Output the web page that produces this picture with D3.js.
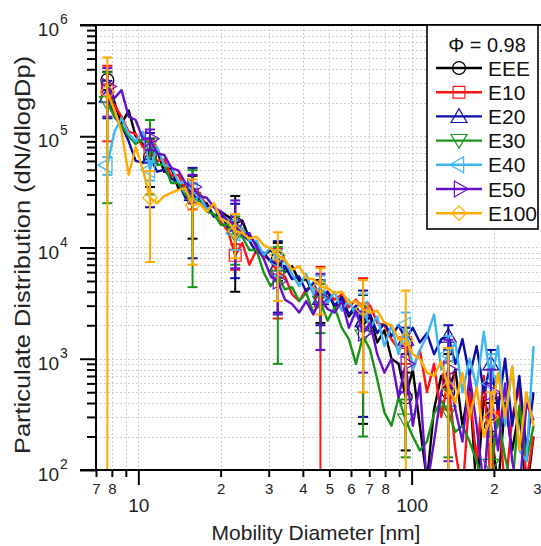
<!DOCTYPE html>
<html>
<head>
<meta charset="utf-8">
<script src="https://cdn.jsdelivr.net/npm/d3@7"></script>
<style>
  body { margin: 0; background: #fff; }
  svg { display: block; font-family: "Liberation Sans", Arial, sans-serif; }
</style>
</head>
<body>
<svg id="chart" width="541" height="546"></svg>
<script>
// mobility diameters [nm], same for every run
var diameters = [7.70, 8.18, 8.68, 9.22, 9.78, 10.39, 11.03, 11.71, 12.43, 13.20,
  14.01, 14.87, 15.79, 16.77, 17.80, 18.90, 20.06, 21.30, 22.62, 24.01,
  25.49, 27.07, 28.73, 30.51, 32.39, 34.39, 36.51, 38.76, 41.15, 43.69,
  46.38, 49.24, 52.28, 55.51, 58.93, 62.57, 66.43, 70.52, 74.87, 79.49,
  84.39, 89.60, 95.13, 101.0, 107.2, 113.8, 120.8, 128.3, 136.2, 144.6,
  153.5, 163.0, 173.0, 183.7, 195.0, 207.1, 219.8, 233.4, 247.8, 263.1, 279.3];

var seriesNames = ["EEE", "E10", "E20", "E30", "E40", "E50", "E100"];

var eee = [3.2e5, 2.0e5, 1.3e5, 1.7e5, 1.0e5, 8.5e4, 6.5e4, 7.5e4, 4.8e4, 5.2e4,
  3.4e4, 3.8e4, 2.8e4, 2.6e4, 2.5e4, 1.9e4, 2.1e4, 1.9e4, 1.65e4, 1.75e4,
  1.2e4, 1.1e4, 8.5e3, 9.5e3, 8.0e3, 6.0e3, 6.8e3, 5.0e3, 5.2e3, 3.9e3,
  3.6e3, 4.0e3, 2.9e3, 3.5e3, 2.4e3, 2.9e3, 2.0e3, 2.4e3, 1.4e3, 1.8e3,
  1.0e3, 900, 450, 800, 250, 80, 350, 700, 500, 800,
  250, 600, 60, 450, 250, 70, 400, 150, 350, 60, 200];
var e10 = [2.6e5, 1.9e5, 1.5e5, 1.1e5, 1.05e5, 8.0e4, 7.5e4, 6.0e4, 6.2e4, 4.4e4,
  4.5e4, 3.3e4, 3.0e4, 3.1e4, 2.3e4, 2.4e4, 1.7e4, 1.4e4, 8.5e3, 1.1e4,
  7.0e3, 9.5e3, 8.5e3, 7.5e3, 6.0e3, 5.5e3, 3.8e3, 3.3e3, 4.2e3, 4.6e3,
  3.3e3, 4.0e3, 3.4e3, 3.8e3, 2.9e3, 3.4e3, 2.8e3, 3.0e3, 2.1e3, 2.0e3,
  1.5e3, 1.2e3, 1.4e3, 800, 1.2e3, 500, 900, 300, 650, 150,
  60, 500, 120, 700, 70, 450, 60, 300, 550, 80, 200];
var e20 = [2.3e5, 1.5e5, 1.25e5, 9.0e4, 6.0e4, 5.8e4, 6.5e4, 4.8e4, 5.0e4, 4.2e4,
  3.8e4, 2.8e4, 3.0e4, 2.6e4, 2.4e4, 1.9e4, 2.0e4, 1.5e4, 1.5e4, 1.3e4,
  1.15e4, 9.0e3, 9.0e3, 7.5e3, 7.0e3, 6.8e3, 5.2e3, 5.5e3, 4.0e3, 4.8e3,
  3.5e3, 4.0e3, 3.0e3, 3.6e3, 2.5e3, 3.0e3, 2.2e3, 2.5e3, 1.7e3, 2.1e3,
  1.6e3, 2.0e3, 1.5e3, 1.9e3, 1.4e3, 1.7e3, 1.1e3, 1.5e3, 1.6e3, 900,
  1.5e3, 700, 1.3e3, 500, 900, 350, 1.0e3, 250, 700, 150, 500];
var e30 = [2.0e5, 1.5e5, 1.25e5, 1.0e5, 8.5e4, 9.5e4, 8.5e4, 5.5e4, 5.6e4, 3.8e4,
  3.8e4, 3.0e4, 2.7e4, 2.6e4, 2.1e4, 2.0e4, 1.6e4, 1.6e4, 1.3e4, 1.25e4,
  9.5e3, 9.5e3, 6.0e3, 4.5e3, 5.5e3, 4.2e3, 4.4e3, 3.3e3, 3.9e3, 2.6e3,
  3.2e3, 2.2e3, 2.9e3, 1.9e3, 1.5e3, 900, 1.6e3, 1.2e3, 650, 330,
  250, 450, 280, 200, 150, 180, 320, 420, 330, 220,
  250, 180, 120, 70, 110, 300, 130, 70, 380, 120, 250];
var e40 = [5.5e4, 1.1e5, 1.45e5, 1.05e5, 9.0e4, 1.1e5, 5.0e4, 8.0e4, 5.5e4, 5.3e4,
  3.9e4, 3.8e4, 3.2e4, 2.9e4, 2.2e4, 2.4e4, 1.8e4, 1.8e4, 1.35e4, 1.5e4,
  1.15e4, 1.15e4, 8.5e3, 1.0e4, 7.5e3, 7.5e3, 5.8e3, 4.5e3, 5.8e3, 3.8e3,
  4.4e3, 3.2e3, 4.0e3, 2.7e3, 3.4e3, 2.4e3, 2.8e3, 1.9e3, 2.4e3, 1.3e3,
  2.0e3, 1.1e3, 2.0e3, 800, 1.2e3, 1.6e3, 2.5e3, 800, 1.1e3, 1.4e3,
  500, 1.0e3, 550, 1.75e3, 600, 1.3e3, 250, 850, 150, 120, 1.3e3];
var e50 = [2.8e5, 2.2e5, 2.6e5, 1.5e5, 1.4e5, 9.5e4, 9.5e4, 7.0e4, 6.8e4, 5.2e4,
  4.9e4, 3.8e4, 3.5e4, 2.9e4, 2.8e4, 2.3e4, 2.1e4, 1.7e4, 1.65e4, 1.3e4,
  1.35e4, 1.0e4, 8.0e3, 5.5e3, 5.0e3, 3.4e3, 3.1e3, 2.6e3, 3.3e3, 2.5e3,
  3.5e3, 2.8e3, 2.6e3, 3.3e3, 1.9e3, 2.7e3, 1.7e3, 2.1e3, 1.1e3, 750,
  1.0e3, 450, 900, 250, 600, 70, 180, 500, 800, 350,
  180, 700, 250, 70, 500, 150, 600, 120, 60, 400, 280];
var e100 = [2.5e5, 1.7e5, 1.1e5, 4.5e4, 8.0e4, 5.0e4, 2.8e4, 2.5e4, 2.9e4, 3.1e4,
  3.3e4, 3.4e4, 2.4e4, 2.5e4, 2.1e4, 2.5e4, 1.8e4, 1.7e4, 1.4e4, 1.35e4,
  1.2e4, 1.25e4, 1.05e4, 9.8e3, 8.5e3, 7.8e3, 6.3e3, 6.8e3, 5.3e3, 5.2e3,
  4.5e3, 4.3e3, 3.9e3, 4.0e3, 3.2e3, 3.3e3, 2.8e3, 2.6e3, 2.7e3, 2.1e3,
  2.0e3, 1.5e3, 1.5e3, 1.1e3, 1.0e3, 750, 700, 950, 550, 400,
  750, 300, 550, 200, 300, 750, 300, 850, 150, 500, 250];

// error bars sit on these points (index into diameters)
var errIndex = [0, 6, 12, 18, 24, 30, 36, 42, 48, 54];
var eeeErr  = [6e4, 3e4, 1.6e4, 1.25e4, 3e3, 1.5e3, 1.74e3, 300, 600, 150];
var e10Err  = [1.7e5, 1.5e4, 8e3, 2.2e3, 3.7e3, 3.4e3, 2.5e3, 500, 300, 100];
var e20Err  = [8.5e4, 4.2e4, 2.2e4, 9.7e3, 4.4e3, 1.5e3, 1.9e3, 400, 400, 300];
var e30Err  = [1.75e5, 5.5e4, 2.26e4, 6e3, 4.6e3, 1.5e3, 1.4e3, 150, 200, 100];
var e40Err  = [1e4, 1e4, 6e3, 4e3, 2e3, 1.2e3, 1e3, 600, 500, 500];
var e50Err  = [1.3e5, 2e4, 1e4, 1e4, 2.5e3, 2.3e3, 950, 400, 680, 300];
var e100Err = [2.6e5, 2.06e4, 1.7e4, 6e3, 5.2e3, 2e3, 2.3e3, 2.6e3, 700, 200];

var xMajorTicks = [10, 100];
var xMajorLabels = ["10", "100"];
var xMinorTicks = [7, 8, 9, 20, 30, 40, 50, 60, 70, 80, 90, 200, 300];
var xMinorLabels = ["7", "8", "", "2", "3", "4", "5", "6", "7", "8", "", "2", "3"];
var yMajorTicks = [1e2, 1e3, 1e4, 1e5, 1e6];
var yMajorExponents = ["2", "3", "4", "5", "6"];

var legendTitle = "\u03a6 = 0.98";

var seriesData = [eee, e10, e20, e30, e40, e50, e100];
var seriesErr = [eeeErr, e10Err, e20Err, e30Err, e40Err, e50Err, e100Err];
var seriesColors = ["#000000", "#ff1414", "#0c0ca8", "#189418", "#3db6f2", "#6410cc", "#ffab00"];

var plotLeft = 96, plotRight = 542, plotTop = 25, plotBottom = 470;

var svg = d3.select("#chart");

var x = d3.scaleLog().domain([7, 300]).range([plotLeft, plotRight]);
var y = d3.scaleLog().domain([100, 1e6]).range([plotBottom, plotTop]);

// minor y ticks: 2..9 in each decade
var yMinorTicks = [];
for (var p = 2; p < 6; p++) {
  for (var k = 2; k < 10; k++) yMinorTicks.push(k * Math.pow(10, p));
}

// dashed grid
var grid = svg.append("g").attr("stroke", "#cfcfcf").attr("stroke-dasharray", "2,2").attr("stroke-width", 1);
grid.selectAll(".gy").data(yMajorTicks.concat(yMinorTicks)).enter().append("line")
  .attr("x1", plotLeft).attr("x2", plotRight)
  .attr("y1", function(d) { return Math.round(y(d)) + 0.5; })
  .attr("y2", function(d) { return Math.round(y(d)) + 0.5; });
grid.selectAll(".gx").data(xMajorTicks.concat(xMinorTicks)).enter().append("line")
  .attr("y1", plotTop).attr("y2", plotBottom)
  .attr("x1", function(d) { return Math.round(x(d)) + 0.5; })
  .attr("x2", function(d) { return Math.round(x(d)) + 0.5; });

svg.append("clipPath").attr("id", "plotClip").append("rect")
  .attr("x", plotLeft).attr("y", plotTop)
  .attr("width", plotRight - plotLeft).attr("height", plotBottom - plotTop);

var plot = svg.append("g").attr("clip-path", "url(#plotClip)");

// marker shapes, one per series
function markerPath(i) {
  var types = [d3.symbolCircle, d3.symbolSquare, d3.symbolTriangle, d3.symbolTriangle,
    d3.symbolTriangle, d3.symbolTriangle, d3.symbolSquare];
  var sizes = [130, 140, 110, 110, 110, 110, 105];
  return d3.symbol().type(types[i]).size(sizes[i])();
}
var markerRotate = [0, 0, 0, 180, -90, 90, 45];
var markerOffset = [0, 0, 1.5, -1.5, 0, 0, 0];

var line = d3.line()
  .x(function(v, i) { return x(diameters[i]); })
  .y(function(v) { return y(v); });

seriesData.forEach(function(vals, s) {
  var color = seriesColors[s];
  var g = plot.append("g");

  g.append("path")
    .attr("d", line(vals))
    .attr("fill", "none")
    .attr("stroke", color)
    .attr("stroke-width", 2.4)
    .attr("stroke-linejoin", "round");

  // error bars; when the lower end is below zero the bar runs off the bottom
  errIndex.forEach(function(idx, j) {
    var v = vals[idx], e = seriesErr[s][j];
    var cx = x(diameters[idx]);
    var yHi = y(v + e);
    var hasLow = (v - e) > 0;
    var yLo = hasLow ? y(v - e) : plotBottom + 10;
    g.append("line").attr("x1", cx).attr("x2", cx).attr("y1", yHi).attr("y2", yLo)
      .attr("stroke", color).attr("stroke-width", 2);
    g.append("line").attr("x1", cx - 5).attr("x2", cx + 5).attr("y1", yHi).attr("y2", yHi)
      .attr("stroke", color).attr("stroke-width", 2);
    if (hasLow) {
      g.append("line").attr("x1", cx - 5).attr("x2", cx + 5).attr("y1", yLo).attr("y2", yLo)
        .attr("stroke", color).attr("stroke-width", 2);
    }
    g.append("path")
      .attr("d", markerPath(s))
      .attr("transform", "translate(" + cx + "," + (y(v) + markerOffset[s]) + ") rotate(" + markerRotate[s] + ")")
      .attr("fill", "none").attr("stroke", color).attr("stroke-width", 1.2);
  });
});

// axes
var xMinorAxis = d3.axisBottom(x).tickValues(xMinorTicks).tickSize(7).tickPadding(6)
  .tickFormat(function(d, i) { return xMinorLabels[i]; });
var xMajorAxis = d3.axisBottom(x).tickValues(xMajorTicks).tickSize(15).tickPadding(14)
  .tickFormat(function(d, i) { return xMajorLabels[i]; });
var yMinorAxis = d3.axisLeft(y).tickValues(yMinorTicks).tickSize(9).tickFormat("");
var yMajorAxis = d3.axisLeft(y).tickValues(yMajorTicks).tickSize(16).tickFormat("");

function styleAxis(g, fontSize) {
  g.select(".domain").remove();
  g.selectAll(".tick line").attr("stroke", "#000").attr("stroke-width", 2);
  g.selectAll(".tick text").attr("fill", "#222").style("font-size", fontSize + "px")
    .style("font-family", '"Liberation Sans", Arial, sans-serif');
}

var xMinorG = svg.append("g").attr("transform", "translate(0," + plotBottom + ")").call(xMinorAxis).call(styleAxis, 15);
// last label sits on the window edge: keep it inside
xMinorG.selectAll(".tick text").filter(function(d) { return d === 300; })
  .attr("text-anchor", "end").attr("x", -1);
svg.append("g").attr("transform", "translate(0," + plotBottom + ")").call(xMajorAxis).call(styleAxis, 19);
svg.append("g").attr("transform", "translate(" + plotLeft + ",0)").call(yMinorAxis).call(styleAxis, 15);
svg.append("g").attr("transform", "translate(" + plotLeft + ",0)").call(yMajorAxis).call(styleAxis, 15);

// frame
svg.append("line").attr("x1", plotLeft).attr("x2", plotLeft).attr("y1", plotTop - 1).attr("y2", plotBottom + 1)
  .attr("stroke", "#000").attr("stroke-width", 2);
svg.append("line").attr("x1", plotLeft - 16).attr("x2", 541).attr("y1", plotBottom).attr("y2", plotBottom)
  .attr("stroke", "#000").attr("stroke-width", 2);
svg.append("line").attr("x1", plotLeft - 16).attr("x2", 541).attr("y1", plotTop).attr("y2", plotTop)
  .attr("stroke", "#000").attr("stroke-width", 2);

// y labels 10^n
yMajorTicks.forEach(function(d, i) {
  var ty = y(d);
  svg.append("text").attr("x", 59).attr("y", ty + 11).attr("text-anchor", "end")
    .attr("fill", "#222").style("font-size", "19px").text("10");
  svg.append("text").attr("x", 60).attr("y", ty - 1)
    .attr("fill", "#222").style("font-size", "14px").text(yMajorExponents[i]);
});

// axis titles
svg.append("text").attr("x", 316).attr("y", 540).attr("text-anchor", "middle")
  .attr("fill", "#222").style("font-size", "21px").text("Mobility Diameter [nm]");
svg.append("text").attr("transform", "translate(30,255) rotate(-90)").attr("text-anchor", "middle")
  .attr("textLength", 398).attr("lengthAdjust", "spacingAndGlyphs")
  .attr("fill", "#222").style("font-size", "22px").text("Particulate Distribution (dN/dlogDp)");

// legend
var legend = svg.append("g");
legend.append("rect").attr("x", 427).attr("y", 25).attr("width", 111).attr("height", 204)
  .attr("fill", "#fff").attr("stroke", "#000").attr("stroke-width", 1.6);
legend.append("text").attr("x", 487).attr("y", 52).attr("text-anchor", "middle")
  .attr("fill", "#111").style("font-size", "20px").text(legendTitle);

seriesNames.forEach(function(name, s) {
  var ly = 68 + s * 24.2;
  var color = seriesColors[s];
  legend.append("line").attr("x1", 436).attr("x2", 482).attr("y1", ly).attr("y2", ly)
    .attr("stroke", color).attr("stroke-width", 2.4);
  legend.append("path").attr("d", markerPath(s))
    .attr("transform", "translate(459," + (ly + markerOffset[s]) + ") rotate(" + markerRotate[s] + ")")
    .attr("fill", "none").attr("stroke", color).attr("stroke-width", 1.2);
  legend.append("text").attr("x", 488).attr("y", ly + 7.5)
    .attr("fill", "#111").style("font-size", "21px").text(name);
});
</script>
</body>
</html>
